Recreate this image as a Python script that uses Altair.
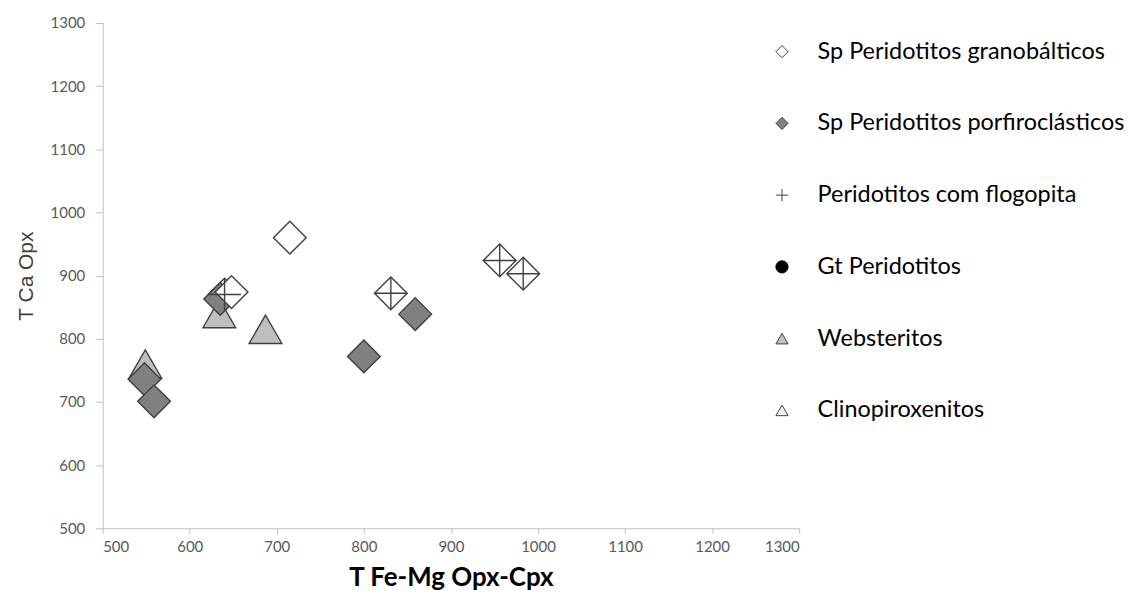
import altair as alt
import pandas as pd

categories = [
    "Sp Peridotitos granobálticos",
    "Sp Peridotitos porfiroclásticos",
    "Peridotitos com flogopita",
    "Gt Peridotitos",
    "Websteritos",
    "Clinopiroxenitos",
]
shapes = ["diamond", "diamond", "M-1,0L1,0M0,-1L0,1", "circle", "triangle-up", "triangle-up"]
fills = ["#ffffff", "#808080", "#ffffff", "#000000", "#bfbfbf", "#f2f2f2"]
strokes = ["#404040", "#404040", "#404040", "#000000", "#404040", "#404040"]

# data
web_x = [549, 634, 687]
web_y = [760, 840, 815]
porf_x = [548, 559, 635, 800, 859]
porf_y = [736, 701, 863, 772, 839]
gran_x = [715, 648]
gran_y = [960, 874]
flog_x = [640, 831, 956, 983]
flog_y = [870, 872, 924, 903]

rows = []
order = 0
for cat, xs, ys in [
    ("Websteritos", web_x, web_y),
    ("Sp Peridotitos porfiroclásticos", porf_x, porf_y),
    ("Sp Peridotitos granobálticos", gran_x, gran_y),
    ("Peridotitos com flogopita", flog_x, flog_y),
]:
    for a, b in zip(xs, ys):
        rows.append({"x": a, "y": b, "cat": cat, "ord": order})
        order += 1
df = pd.DataFrame(rows)
df_flog = pd.DataFrame({"x": flog_x, "y": flog_y})

ticks = list(range(500, 1301, 100))
xscale = alt.Scale(domain=[500, 1300], nice=False, zero=False)
yscale = alt.Scale(domain=[500, 1300], nice=False, zero=False)

axis_common = dict(
    values=ticks,
    format="d",
    grid=False,
    domainColor="#bfbfbf",
    tickColor="#bfbfbf",
    labelColor="#595959",
    labelFont="Lato",
    labelFontSize=15,
)

x_enc = alt.X(
    "x:Q",
    scale=xscale,
    axis=alt.Axis(
        title="T Fe-Mg Opx-Cpx",
        titleFont="Lato",
        titleFontSize=26,
        titleFontWeight="bold",
        titleColor="#000000",
        titlePadding=10,
        tickSize=5,
        labelPadding=6,
        **axis_common,
    ),
)
y_enc = alt.Y(
    "y:Q",
    scale=yscale,
    axis=alt.Axis(
        title="T Ca Opx",
        titleFont="Liberation Sans",
        titleFontSize=21,
        titleFontWeight="normal",
        titleColor="#404040",
        titlePadding=14,
        tickSize=7,
        labelPadding=11,
        **axis_common,
    ),
)

legend = alt.Legend(
    title=None,
    orient="none",
    legendX=670,
    legendY=17,
    padding=0,
    rowPadding=47,
    labelFont="Lato",
    labelFontSize=23.5,
    labelColor="#000000",
    labelOffset=24,
    labelLimit=500,
    symbolSize=150,
    symbolStrokeWidth=1,
)

back = alt.Chart(df_flog).mark_point(
    shape="diamond", filled=True, fill="#ffffff", stroke="#404040",
    strokeWidth=1.4, size=1080, opacity=1,
).encode(x=alt.X("x:Q", scale=xscale), y=alt.Y("y:Q", scale=yscale))

main = alt.Chart(df).mark_point(
    filled=True, strokeWidth=1.4, size=1080, opacity=1,
).encode(
    x=x_enc,
    y=y_enc,
    shape=alt.Shape("cat:N", scale=alt.Scale(domain=categories, range=shapes), legend=legend),
    fill=alt.Fill("cat:N", scale=alt.Scale(domain=categories, range=fills), legend=legend),
    stroke=alt.Stroke("cat:N", scale=alt.Scale(domain=categories, range=strokes), legend=legend),
    order=alt.Order("ord:Q"),
)

chart = alt.layer(back, main).properties(
    width=699,
    height=507,
    autosize=alt.AutoSizeParams(type="none"),
    padding={"left": 95, "top": 14, "right": 335, "bottom": 76},
    background="#ffffff",
).configure_view(stroke=None)

chart.save("out.html", embed_options={"renderer": "svg", "actions": False})
